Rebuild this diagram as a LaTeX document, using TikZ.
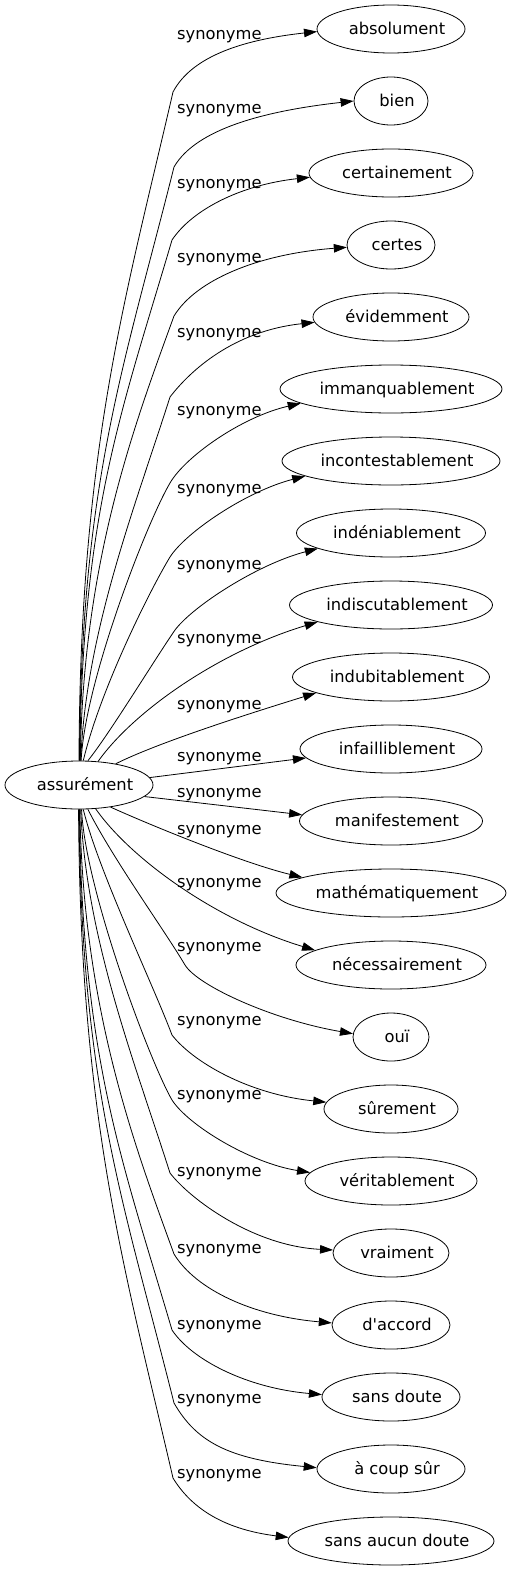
\documentclass[tikz,border=0pt]{standalone}
\usepackage{fontspec}
\setmainfont{DejaVu Sans}[Ligatures=TeXOff]
\usetikzlibrary{arrows.meta,shapes.geometric}
\newcommand{\wt}[1]{\makebox[0pt]{\hspace*{12pt}#1}}
\begin{document}
\begin{tikzpicture}[x=1pt,y=-1pt,
  every node/.style={font=\fontsize{16.3}{19}\selectfont},
  word/.style={ellipse,draw,line width=0.8pt,inner sep=0pt,minimum height=48pt,text height=11pt,text depth=0pt},
  lab/.style={anchor=base west,inner sep=0pt},
  edge/.style={line width=0.8pt,-{Triangle[length=13pt,width=8.5pt]}}]
\useasboundingbox (0,0) rectangle (511,1571);
\node[word,minimum width=148pt] (L) at (79,785) {\wt{assurément}};
\node[word,minimum width=148pt] (n1) at (391,29) {\wt{absolument}};
\node[word,minimum width=74pt] (n2) at (391,101) {\wt{bien}};
\node[word,minimum width=164pt] (n3) at (391,173) {\wt{certainement}};
\node[word,minimum width=88pt] (n4) at (391,245) {\wt{certes}};
\node[word,minimum width=156pt] (n5) at (391,317) {\wt{évidemment}};
\node[word,minimum width=222pt] (n6) at (391,389) {\wt{immanquablement}};
\node[word,minimum width=218pt] (n7) at (391,461) {\wt{incontestablement}};
\node[word,minimum width=189pt] (n8) at (391,533) {\wt{indéniablement}};
\node[word,minimum width=203pt] (n9) at (391,605) {\wt{indiscutablement}};
\node[word,minimum width=197pt] (n10) at (391,677) {\wt{indubitablement}};
\node[word,minimum width=182pt] (n11) at (391,749) {\wt{infailliblement}};
\node[word,minimum width=183pt] (n12) at (391,821) {\wt{manifestement}};
\node[word,minimum width=230pt] (n13) at (391,893) {\wt{mathématiquement}};
\node[word,minimum width=190pt] (n14) at (391,965) {\wt{nécessairement}};
\node[word,minimum width=76pt] (n15) at (391,1037) {\wt{ouï}};
\node[word,minimum width=134pt] (n16) at (391,1109) {\wt{sûrement}};
\node[word,minimum width=172pt] (n17) at (391,1181) {\wt{véritablement}};
\node[word,minimum width=116pt] (n18) at (391,1253) {\wt{vraiment}};
\node[word,minimum width=118pt] (n19) at (391,1325) {\wt{d'accord}};
\node[word,minimum width=138pt] (n20) at (391,1397) {\wt{sans doute}};
\node[word,minimum width=148pt] (n21) at (391,1469) {\wt{à coup sûr}};
\node[word,minimum width=206pt] (n22) at (391,1541) {\wt{sans aucun doute}};
\node[lab] (l1) at (177,39.5) {synonyme};
\node[lab] (l2) at (177,113) {synonyme};
\node[lab] (l3) at (177,188) {synonyme};
\node[lab] (l4) at (177,262) {synonyme};
\node[lab] (l5) at (177,337) {synonyme};
\node[lab] (l6) at (177,415) {synonyme};
\node[lab] (l7) at (177,493) {synonyme};
\node[lab] (l8) at (177,569) {synonyme};
\node[lab] (l9) at (177,643) {synonyme};
\node[lab] (l10) at (177,709) {synonyme};
\node[lab] (l11) at (177,761) {synonyme};
\node[lab] (l12) at (177,797) {synonyme};
\node[lab] (l13) at (177,834) {synonyme};
\node[lab] (l14) at (177,887) {synonyme};
\node[lab] (l15) at (177,951) {synonyme};
\node[lab] (l16) at (177,1025) {synonyme};
\node[lab] (l17) at (177,1099) {synonyme};
\node[lab] (l18) at (177,1176) {synonyme};
\node[lab] (l19) at (177,1253) {synonyme};
\node[lab] (l20) at (177,1329) {synonyme};
\node[lab] (l21) at (177,1403) {synonyme};
\node[lab] (l22) at (177,1478) {synonyme};
\draw[edge] (L.90) .. controls (80,450) and (125,300) .. (173,92) .. controls (193,54) and (249,39) .. (n1.182);
\draw[edge] (L.89) .. controls (81,481) and (124,367) .. (174,167) .. controls (196,129) and (264,111) .. (n2.180);
\draw[edge] (L.88) .. controls (82,511) and (122,410) .. (172,240) .. controls (192,210) and (240,185) .. (n3.183);
\draw[edge] (L.87) .. controls (83,561) and (134,426) .. (174,316) .. controls (196,280) and (258,254) .. (n4.183);
\draw[edge] (L.86) .. controls (86,631) and (135,507) .. (170,397) .. controls (190,371) and (233,331) .. (n5.184);
\draw[edge] (L.85) .. controls (85,681) and (147,522) .. (170,483) .. controls (185,457) and (241,417) .. (n6.189);
\draw[edge] (L.80) .. controls (100,690) and (150,590) .. (170,557) .. controls (186,532) and (247,491) .. (n7.190);
\draw[edge] (L.70) .. controls (108,736) and (155,659) .. (175,630) .. controls (193,606) and (258,564) .. (n8.192);
\draw[edge] (L.51) .. controls (133,712) and (218,652) .. (n9.193);
\draw[edge] (L.30) .. controls (155,744) and (238,717) .. (n10.192);
\draw[edge] (L.6) -- (n11.186);
\draw[edge] (L.350) -- (n12.176);
\draw[edge] (L.325) .. controls (150,825) and (243,863) .. (n13.170);
\draw[edge] (L.305) .. controls (130,858) and (215,920) .. (n14.169);
\draw[edge] (L.290) .. controls (113,859) and (165,931) .. (185,965) .. controls (198,986) and (273,1020) .. (n15.175);
\draw[edge] (L.280) .. controls (98,870) and (152,982) .. (172,1035) .. controls (192,1061) and (247,1094) .. (n16.174);
\draw[edge] (L.276) .. controls (85,889) and (150,1062) .. (172,1100) .. controls (188,1125) and (250,1163) .. (n17.174);
\draw[edge] (L.274) .. controls (86,939) and (135,1063) .. (170,1173) .. controls (190,1199) and (253,1246) .. (n18.177);
\draw[edge] (L.272) .. controls (83,1009) and (134,1144) .. (174,1254) .. controls (196,1290) and (253,1316) .. (n19.178);
\draw[edge] (L.271) .. controls (82,1059) and (122,1160) .. (172,1330) .. controls (192,1360) and (247,1388) .. (n20.178);
\draw[edge] (L.270) .. controls (81,1089) and (124,1203) .. (174,1403) .. controls (196,1441) and (227,1459) .. (n21.179);
\draw[edge] (L.269) .. controls (80,1120) and (125,1270) .. (173,1478) .. controls (190,1506) and (221,1529) .. (n22.178);
\end{tikzpicture}
\end{document}
